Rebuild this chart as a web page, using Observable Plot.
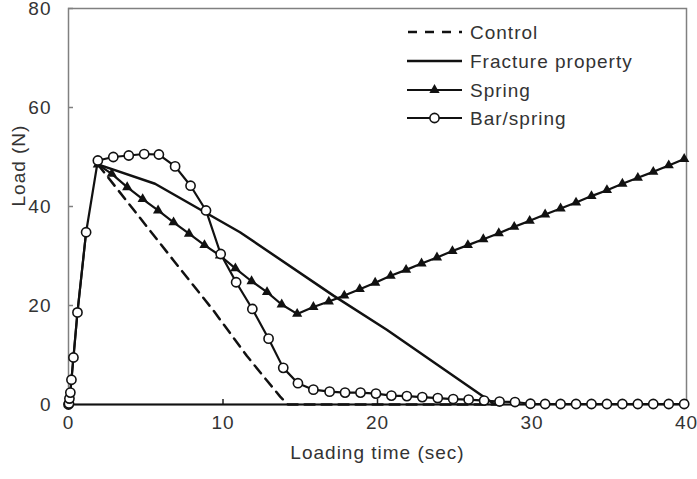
<!DOCTYPE html>
<html>
<head>
<meta charset="utf-8">
<script src="https://cdn.jsdelivr.net/npm/d3@7"></script>
<script src="https://cdn.jsdelivr.net/npm/@observablehq/plot@0.6"></script>
<style>
  body { margin: 0; background: #fff; }
  #chart { position: relative; width: 697px; height: 479px; font-family: "Liberation Sans", Arial, sans-serif; }
  #legend { position: absolute; left: 0; top: 0; pointer-events: none; }
</style>
</head>
<body>
<div id="chart"></div>
<script>
// Load (N) against loading time (sec) for four models
const xTicks = [0, 10, 20, 30, 40];
const yTicks = [0, 20, 40, 60, 80];

const controlTime = [1.9, 6.8, 9.4, 11.55, 12.8, 13.7, 14.2, 28];
const controlLoad = [48.5, 29.1, 18.9, 9.8, 5.0, 1.6, 0, 0];

const fractureTime = [1.9, 5.6, 11.1, 17.15, 20.6, 27.5, 28];
const fractureLoad = [48.5, 44.6, 34.8, 22.0, 15.1, 0.2, 0];

const springTime = [1.9, 2.8, 3.8, 4.8, 5.8, 6.8, 7.8, 8.8, 9.8, 10.8,
  11.85, 12.85, 13.8, 14.8, 15.85, 16.85, 17.85, 18.85, 19.85, 20.85,
  21.85, 22.85, 23.85, 24.85, 25.85, 26.85, 27.85, 28.85, 29.85, 30.85,
  31.85, 32.85, 33.85, 34.85, 35.85, 36.85, 37.85, 38.85, 39.85];
const springLoad = [48.5, 46.6, 43.9, 41.5, 39.2, 36.8, 34.5, 32.2, 30.1, 27.5,
  24.9, 22.7, 20.2, 18.3, 19.7, 20.8, 22.0, 23.3, 24.6, 26.0,
  27.2, 28.5, 29.7, 31.0, 32.2, 33.4, 34.6, 35.9, 37.1, 38.4,
  39.6, 40.8, 42.1, 43.3, 44.6, 45.8, 47.0, 48.3, 49.6];

const barSpringTime = [0, 0.03, 0.06, 0.12, 0.19, 0.32, 0.58, 1.14,
  1.9, 2.9, 3.9, 4.9, 5.85, 6.9, 7.9, 8.9, 9.85,
  10.85, 11.9, 12.95, 13.9, 14.85, 15.85, 16.9, 17.9, 18.9, 19.9,
  20.9, 21.9, 22.9, 23.9, 24.9, 25.9, 26.9, 27.9, 28.9, 29.9,
  30.85, 31.85, 32.85, 33.85, 34.85, 35.85, 36.85, 37.85, 38.85, 39.85];
const barSpringLoad = [0, 0.2, 1.2, 2.4, 5.0, 9.5, 18.6, 34.8,
  49.3, 50.0, 50.3, 50.6, 50.5, 48.1, 44.2, 39.2, 30.4,
  24.7, 19.3, 13.3, 7.4, 4.3, 3.0, 2.6, 2.4, 2.4, 2.2,
  1.8, 1.7, 1.5, 1.3, 1.1, 1.0, 0.8, 0.6, 0.5, 0.15,
  0.1, 0.1, 0.1, 0.1, 0.1, 0.1, 0.1, 0.1, 0.1, 0.1];

const seriesNames = ["Control", "Fracture property", "Spring", "Bar/spring"];

const toRows = (ts, ls) => ts.map((t, i) => ({t, load: ls[i]}));
const control = toRows(controlTime, controlLoad);
const fracture = toRows(fractureTime, fractureLoad);
const spring = toRows(springTime, springLoad);
// the spring model shares the bar/spring loading ramp up to the peak
const springRamp = toRows(barSpringTime.slice(0, 8), barSpringLoad.slice(0, 8));
const barSpring = toRows(barSpringTime, barSpringLoad);

const ink = "#111";
const textInk = "#333";
const fontSize = 19;

const chart = Plot.plot({
  width: 697,
  height: 479,
  marginLeft: 68,
  marginRight: 11,
  marginTop: 8,
  marginBottom: 75,
  style: {fontFamily: '"Liberation Sans", Arial, sans-serif', letterSpacing: "1px", background: "#fff"},
  x: {domain: [0, 40]},
  y: {domain: [0, 80]},
  marks: [
    Plot.frame({stroke: "#808080", strokeWidth: 1.5}),
    Plot.axisY(yTicks, {tickSize: -5, tickPadding: 22, fontSize, fill: textInk, stroke: "#808080", strokeWidth: 1.5, label: null}),
    Plot.axisX(xTicks, {tickSize: -5, tickPadding: 16, fontSize, fill: textInk, stroke: "#222", strokeWidth: 1.5, label: null}),
    Plot.ruleY([0], {stroke: ink, strokeWidth: 1.8}),
    Plot.text(["Loading time (sec)"], {frameAnchor: "bottom", dy: 54, fontSize, fill: textInk}),
    Plot.text(["Load (N)"], {frameAnchor: "left", dx: -50, rotate: -90, fontSize, fill: textInk}),
    Plot.line(control, {x: "t", y: "load", stroke: ink, strokeWidth: 2.5, strokeDasharray: "10,7"}),
    Plot.line(fracture, {x: "t", y: "load", stroke: ink, strokeWidth: 2.5}),
    Plot.line(springRamp, {x: "t", y: "load", stroke: ink, strokeWidth: 2.2}),
    Plot.line(spring, {x: "t", y: "load", stroke: ink, strokeWidth: 2.2}),
    Plot.line(barSpring, {x: "t", y: "load", stroke: ink, strokeWidth: 2.2}),
    Plot.dot(spring, {x: "t", y: "load", symbol: "triangle", r: 3.8, fill: ink, stroke: "none"}),
    Plot.dot(barSpring, {x: "t", y: "load", symbol: "circle", r: 4.6, fill: "#fff", stroke: ink, strokeWidth: 1.6})
  ]
});

const root = document.getElementById("chart");
root.appendChild(chart);

// Legend in the upper right of the plotting area
const legend = d3.select(root).append("svg")
  .attr("id", "legend")
  .attr("width", 697)
  .attr("height", 479)
  .style("font-family", '"Liberation Sans", Arial, sans-serif')
  .style("letter-spacing", "1px");

const lx0 = 407, lx1 = 462, textX = 470, rowY = [32, 61, 90, 118];
seriesNames.forEach((name, i) => {
  const g = legend.append("g").attr("transform", `translate(0,${rowY[i]})`);
  const line = g.append("line")
    .attr("x1", lx0).attr("x2", lx1).attr("y1", 0).attr("y2", 0)
    .attr("stroke", ink).attr("stroke-width", i < 2 ? 2.5 : 2.2);
  if (i === 0) line.attr("stroke-dasharray", "9,8").attr("x1", lx0 + 1);
  const cx = (lx0 + lx1) / 2;
  if (i === 2) {
    g.append("path").attr("transform", `translate(${cx},0)`)
      .attr("d", d3.symbol(d3.symbolTriangle, Math.PI * 3.8 * 3.8)()).attr("fill", ink);
  }
  if (i === 3) {
    g.append("circle").attr("cx", cx).attr("cy", 0).attr("r", 4.6)
      .attr("fill", "#fff").attr("stroke", ink).attr("stroke-width", 1.6);
  }
  g.append("text").attr("x", textX).attr("y", 0).attr("dy", "0.35em")
    .attr("font-size", fontSize).attr("fill", textInk).text(name);
});
</script>
</body>
</html>
